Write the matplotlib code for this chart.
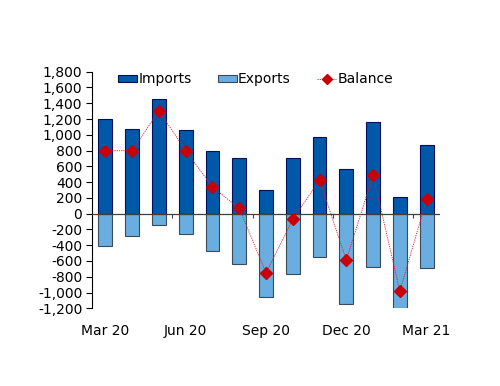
import matplotlib
matplotlib.use("Agg")
import matplotlib.pyplot as plt
import numpy as np
from matplotlib.lines import Line2D
from matplotlib.patches import Patch

months = ["Mar 20", "Apr 20", "May 20", "Jun 20", "Jul 20", "Aug 20", "Sep 20",
          "Oct 20", "Nov 20", "Dec 20", "Jan 21", "Feb 21", "Mar 21"]
imports = [1200, 1075, 1450, 1060, 800, 710, 300, 700, 975, 565, 1160, 210, 875]
exports = [-405, -280, -145, -262, -470, -643, -1053, -770, -554, -1150, -673, -1193, -694]
balance = [798, 798, 1305, 798, 338, 67, -750, -72, 425, -588, 489, -983, 183]
tick_labels = ["Mar 20", "Jun 20", "Sep 20", "Dec 20", "Mar 21"]
yticks = list(range(-1200, 1801, 200))

plt.rcParams['font.family'] = ['DejaVu Sans']
fs = 10
fig = plt.figure(figsize=(5.0, 3.86), dpi=100)
ax = fig.add_axes([0.184, 0.2013, 0.696, 0.613])

x = np.arange(len(months))
w = 0.52
ax.bar(x, imports, width=w, color="#0059A8", edgecolor="#00105A", linewidth=0.8, zorder=2)
ax.bar(x, exports, width=w, color="#6AADE0", edgecolor="#3A4A5A", linewidth=0.8, zorder=2)
ax.plot(x, balance, color="#D8202A", linestyle=(0, (1.5, 1.2)), linewidth=0.6,
        marker="D", markersize=6, markerfacecolor="#C8000A", markeredgecolor="#C8000A", zorder=4)

ax.axhline(0, color="#404040", linewidth=0.9, zorder=3)
ax.set_xlim(-0.5, len(months) - 0.5)
ax.set_ylim(-1200, 1800)
ax.set_yticks(yticks)
ax.set_yticklabels([f"{v:,}" for v in yticks], fontsize=fs)
ax.tick_params(axis="y", direction="out", length=4, width=0.8, pad=3, colors="black")

ax.set_xticks(x[::3])
ax.set_xticklabels(tick_labels, fontsize=fs)
ax.tick_params(axis="x", length=0, pad=11)

for s in ["top", "right", "bottom"]:
    ax.spines[s].set_visible(False)
ax.spines["left"].set_color("black")
ax.spines["left"].set_linewidth(0.8)

sec = ax.secondary_xaxis(1200 / 3000)
sec.set_xticks(x[3::3] - 0.5)
sec.set_xticklabels([])
sec.tick_params(axis="x", direction="out", length=3, width=0.8, colors="#404040")
sec.spines["bottom"].set_visible(False)
sec.spines["top"].set_visible(False)

handles = [Patch(facecolor="#0059A8", edgecolor="#00105A", linewidth=0.8),
           Patch(facecolor="#6AADE0", edgecolor="#3A4A5A", linewidth=0.8),
           Line2D([0], [0], color="#D8202A", linestyle=(0, (1.5, 1.2)), linewidth=0.6,
                  marker="D", markersize=5, markerfacecolor="#C8000A", markeredgecolor="#C8000A")]
ax.legend(handles, ["Imports", "Exports", "Balance"], loc="upper center",
          bbox_to_anchor=(0.47, 1.05), ncol=3, frameon=False, fontsize=fs,
          handlelength=1.35, handletextpad=0.1, columnspacing=1.9, handleheight=0.45)

fig.savefig("out.png", dpi=100)
